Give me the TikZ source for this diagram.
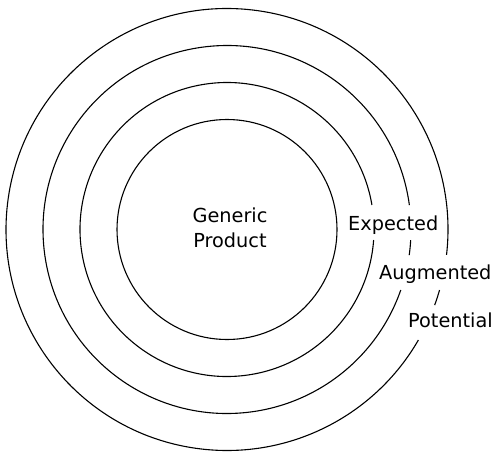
\documentclass[tikz,border=0pt]{standalone}
\usepackage{fontspec}
\setmainfont{DejaVu Sans}
\begin{document}
\begin{tikzpicture}[x=1pt,y=1pt,
  ring/.style={line width=1.1pt, black},
  lab/.style={inner sep=0pt, font=\fontsize{19.3}{25}\selectfont}]
\useasboundingbox (0,0) rectangle (497,451);
\coordinate (c) at (227,221.5);
% inner circle
\draw[ring] (c) circle[radius=110];
% second ring (gap for Expected)
\draw[ring] (c) ++(9.6:147) arc[start angle=9.6, end angle=355.9, radius=147];
% third ring (gaps for Expected and Augmented)
\draw[ring] (c) ++(7.6:184) arc[start angle=7.6, end angle=340.8, radius=184];
\draw[ring] (c) ++(-8:184) arc[start angle=-8, end angle=-3.3, radius=184];
% outer ring (gaps for Augmented and Potential)
\draw[ring] (c) ++(-6.6:221) arc[start angle=-6.6, end angle=330, radius=221];
\draw[ring] (c) ++(-20:221) arc[start angle=-20, end angle=-15.9, radius=221];
% labels
\node[lab, align=center] (gp) at (230,222.7) {Generic\\Product};
\node[lab, anchor=base west] (exp) at (348,221) {Expected};
\node[lab, anchor=base west] (aug) at (379,172) {Augmented};
\node[lab, anchor=base west] (pot) at (408,124) {Potential};
\end{tikzpicture}
\end{document}
